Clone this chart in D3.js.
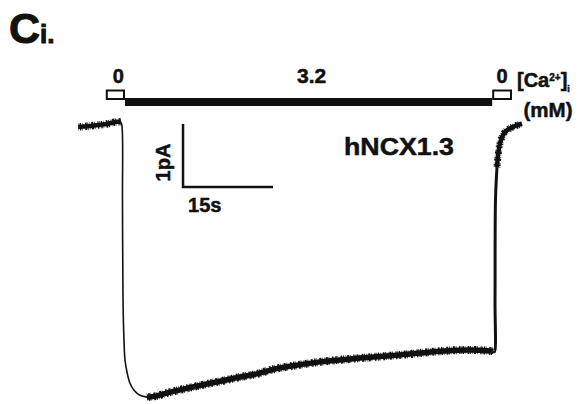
<!DOCTYPE html>
<html>
<head>
<meta charset="utf-8">
<script src="https://cdn.jsdelivr.net/npm/d3@7/dist/d3.min.js"></script>
<style>
  html, body { margin: 0; padding: 0; background: #fff; }
  svg { display: block; }
  text { font-family: "Liberation Sans", Arial, Helvetica, sans-serif; font-weight: bold; fill: #111; stroke: #111; stroke-width: 0.5px; }
</style>
</head>
<body>
<svg id="chart" width="586" height="404"></svg>
<script>
// Solution protocol: bath [Ca2+]i (mM) applied over time (s, 0 = switch to Ca2+)
const solutionConc  = ["0", "3.2", "0"];
const solutionStart = [-3.2, 0, 61.2];
const solutionEnd   = [0, 61.2, 64.5];

// Membrane current trace (time in s, current in pA), split into phases
const preTime      = [-7.8, -6.2, -4.5, -2.8, -1.5, -0.7];
const preCurrent   = [-0.03, -0.02, 0.0, 0.02, 0.05, 0.05];

const onsetTime    = [-0.7, -0.5, -0.42, -0.33, -0.17, 0.0, 0.33, 0.83, 1.5, 2.5, 3.67];
const onsetCurrent = [0.05, -0.02, -1.19, -2.78, -3.41, -3.73, -3.92, -4.10, -4.21, -4.29, -4.32];

const decayTime    = [3.67, 5.33, 7.5, 10.83, 14.17, 16.33, 19.17, 22.0, 25.0, 27.5, 32.5, 39.17, 45.83, 52.5, 57.5, 61.4];
const decayCurrent = [-4.32, -4.30, -4.24, -4.17, -4.10, -4.06, -4.00, -3.95, -3.87, -3.83, -3.76, -3.70, -3.65, -3.59, -3.57, -3.59];

const offTime      = [61.4, 61.58, 61.67, 61.75, 62.0];
const offCurrent   = [-3.59, -3.60, -2.78, -1.19, -0.67];

const tailTime     = [62.0, 62.5, 63.33, 64.67, 66.17];
const tailCurrent  = [-0.67, -0.29, -0.11, -0.03, 0.02];

// Scale bars
const scaleBarCurrent = 1;   // pA
const scaleBarTime    = 15;  // s
const scaleBarOrigin  = { t: 9.67, i: -0.984 };

const cellLabel = "hNCX1.3";

const svg = d3.select("#chart");
const ink = "#111";

const x = d3.scaleLinear().domain([-10, 70]).range([65, 545]);
const y = d3.scaleLinear().domain([0.5, -4.5]).range([93.5, 408.5]);

// Panel label
const title = svg.append("text").attr("x", 9).attr("y", 43).style("stroke-width", "1px");
title.append("tspan").style("font-size", "43px").text("C");
title.append("tspan").style("font-size", "26px").text("i.");

// Solution bar
const barTop = 98, barH = 8, openTop = 90.5, openH = 8.5;
solutionConc.forEach((c, k) => {
  const x0 = x(solutionStart[k]), x1 = x(solutionEnd[k]);
  if (+c > 0) {
    svg.append("rect").attr("x", x0).attr("y", barTop).attr("width", x1 - x0).attr("height", barH)
      .attr("fill", ink);
  } else {
    svg.append("rect").attr("x", x0 + 1).attr("y", openTop).attr("width", x1 - x0 - 2).attr("height", openH)
      .attr("fill", "#fff").attr("stroke", ink).attr("stroke-width", 2);
  }
  svg.append("text").attr("x", (x0 + x1) / 2 + (k === 0 ? 3 : (+c > 0 ? 3 : 0))).attr("y", 83)
    .attr("text-anchor", "middle").style("font-size", (+c > 0 ? 21 : 20) + "px").text(c);
});

// Concentration units label
const ca = svg.append("text").attr("x", 517).attr("y", 87).style("font-size", "20px");
ca.append("tspan").text("[Ca");
ca.append("tspan").attr("dy", -6).style("font-size", "10px").text("2+");
ca.append("tspan").attr("dy", 6).text("]");
ca.append("tspan").attr("dy", 5).style("font-size", "9px").text("i");
svg.append("text").attr("x", 548).attr("y", 117).attr("text-anchor", "middle")
  .style("font-size", "20.5px").text("(mM)");

// Current trace: solid core plus an irregular dashed halo for the recording noise
const line = d3.line().x(d => x(d[0])).y(d => y(d[1])).curve(d3.curveCatmullRom.alpha(0.5));
const noiseDash = "0.6 1.1 1.4 0.9 0.5 2.3 1.8 0.7 0.9 1.6 0.4 1.2 2.1 0.8 0.7 2.6 1.1 0.5";
const phases = [
  [preTime, preCurrent, 4.5, 7.5],
  [onsetTime, onsetCurrent, 1.6, 0],
  [decayTime, decayCurrent, 5.5, 8],
  [offTime, offCurrent, 3, 0],
  [tailTime, tailCurrent, 4.5, 7]
];
phases.forEach(([t, c, w, halo]) => {
  const pts = d3.zip(t, c);
  svg.append("path").datum(pts).attr("d", line)
    .attr("fill", "none").attr("stroke", ink).attr("stroke-width", w)
    .attr("stroke-linejoin", "round").attr("stroke-linecap", "butt");
  if (halo) {
    svg.append("path").datum(pts).attr("d", line)
      .attr("fill", "none").attr("stroke", ink).attr("stroke-width", halo)
      .attr("stroke-dasharray", noiseDash)
      .attr("stroke-linecap", "butt");
  }
});

// Scale bars
const sx = x(scaleBarOrigin.t), sy = y(scaleBarOrigin.i);
const sTop = y(scaleBarOrigin.i + scaleBarCurrent);
svg.append("path")
  .attr("d", `M${sx},${sTop}V${sy}H${x(scaleBarOrigin.t + scaleBarTime)}`)
  .attr("fill", "none").attr("stroke", ink).attr("stroke-width", 2.5);
svg.append("text").attr("transform", `translate(${sx - 13},${(sy + sTop) / 2 + 7}) rotate(-90)`)
  .attr("text-anchor", "middle").style("font-size", "20px").text(scaleBarCurrent + "pA");
svg.append("text").attr("x", sx + 5).attr("y", sy + 25).style("font-size", "20px").text(scaleBarTime + "s");

svg.append("text").attr("x", 344).attr("y", 155).style("font-size", "24px")
  .attr("textLength", 110).attr("lengthAdjust", "spacingAndGlyphs").text(cellLabel);
</script>
</body>
</html>
